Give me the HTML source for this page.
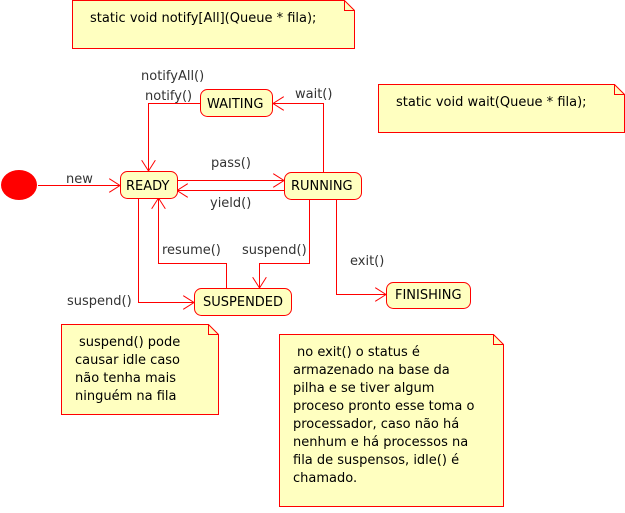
<!DOCTYPE html>
<html><head><style>
body{margin:0;background:#fff}
svg text{font-family:"DejaVu Sans",sans-serif;font-size:13px;fill:#333}
.s text{fill:#000}
</style></head><body>
<svg width="625" height="508" viewBox="0 0 625 508" xmlns="http://www.w3.org/2000/svg">
<defs>
<marker id="a" markerWidth="12" markerHeight="14" refX="11" refY="7" orient="auto" markerUnits="userSpaceOnUse">
<path d="M0,0 L11,7 L0,14" fill="none" stroke="#f00" stroke-width="1"/>
</marker>
</defs>
<g fill="#ffffc0" stroke="#f00" stroke-width="1">
<path d="M72.5,0.5 H344.5 L354.5,10.5 V48.5 H72.5 Z"/><path d="M344.5,0.5 V10.5 H354.5" fill="none"/>
<path d="M378.5,84.5 H614.5 L624.5,94.5 V132.5 H378.5 Z"/><path d="M614.5,84.5 V94.5 H624.5" fill="none"/>
<path d="M61.5,324.5 H208.5 L218.5,334.5 V414.5 H61.5 Z"/><path d="M208.5,324.5 V334.5 H218.5" fill="none"/>
<path d="M279.5,334.5 H493.5 L503.5,344.5 V506.5 H279.5 Z"/><path d="M493.5,334.5 V344.5 H503.5" fill="none"/>
</g>
<ellipse cx="19" cy="185" rx="18" ry="15" fill="#f00"/>
<g fill="none" stroke="#f00" stroke-width="1">
<path d="M38,185.5 H120" marker-end="url(#a)"/>
<path d="M200,103.5 H148.5 V171" marker-end="url(#a)"/>
<path d="M323.5,172 V103.5 H273" marker-end="url(#a)"/>
<path d="M177,180.5 H284" marker-end="url(#a)"/>
<path d="M284,190.5 H177" marker-end="url(#a)"/>
<path d="M138.5,198 V302.5 H194" marker-end="url(#a)"/>
<path d="M226.5,288 V263.5 H158.5 V198" marker-end="url(#a)"/>
<path d="M309.5,199 V263.5 H259.5 V288" marker-end="url(#a)"/>
<path d="M336.5,199 V294.5 H386" marker-end="url(#a)"/>
</g>
<g fill="#ffffc0" stroke="#f00" stroke-width="1">
<rect x="120.5" y="171.5" width="57" height="27" rx="7"/>
<rect x="200.5" y="89.5" width="72" height="27" rx="7"/>
<rect x="284.5" y="172.5" width="77" height="27" rx="7"/>
<rect x="194.5" y="288.5" width="97" height="27" rx="7"/>
<rect x="386.5" y="282.5" width="84" height="26" rx="7"/>
</g>
<g class="s">
<text x="126" y="190">READY</text>
<text x="207" y="108">WAITING</text>
<text x="291" y="190">RUNNING</text>
<text x="203" y="306">SUSPENDED</text>
<text x="395" y="299">FINISHING</text>
</g>
<text x="66" y="183">new</text>
<text x="141" y="80">notifyAll()</text>
<text x="145" y="100">notify()</text>
<text x="295" y="98">wait()</text>
<text x="211" y="167">pass()</text>
<text x="210" y="207">yield()</text>
<text x="162" y="254">resume()</text>
<text x="242" y="254">suspend()</text>
<text x="67" y="305">suspend()</text>
<text x="350" y="265">exit()</text>
<g class="s">
<text x="90" y="22">static void notify[All](Queue * fila);</text>
<text x="396" y="106">static void wait(Queue * fila);</text>
<text x="79" y="346">suspend() pode</text>
<text x="75" y="364">causar idle caso</text>
<text x="75" y="382">não tenha mais</text>
<text x="75" y="400">ninguém na fila</text>
<text x="297" y="356">no exit() o status é</text>
<text x="293" y="374">armazenado na base da</text>
<text x="293" y="392">pilha e se tiver algum</text>
<text x="293" y="410">proceso pronto esse toma o</text>
<text x="293" y="428">processador, caso não há</text>
<text x="293" y="446">nenhum e há processos na</text>
<text x="293" y="464">fila de suspensos, idle() é</text>
<text x="293" y="482">chamado.</text>
</g>
</svg>
</body></html>
